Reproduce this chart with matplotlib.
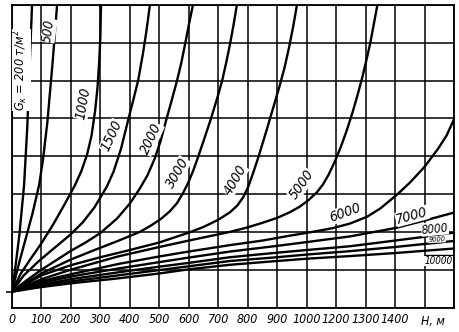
import matplotlib
matplotlib.use("Agg")
import matplotlib.pyplot as plt
from matplotlib import font_manager as fm

# ---- data (H in m, y in grid units 0..8) ----
H200 = [0, 12, 25, 41, 52, 60, 68]
Y200 = [0.42, 1.1, 1.92, 3.24, 4.8, 6.4, 8.0]

H500 = [0, 15, 30, 50, 70, 92, 105, 120, 138, 153]
Y500 = [0.42, 0.9, 1.35, 1.92, 2.5, 3.24, 3.9, 4.9, 6.5, 8.0]

H1000 = [0, 30, 60, 100, 140, 180, 214, 235, 255, 270, 282, 290, 296, 300, 302]
Y1000 = [0.42, 0.9, 1.25, 1.7, 2.2, 2.75, 3.24, 3.6, 4.05, 4.55, 5.2, 5.8, 6.5, 7.2, 8.0]

H1500 = [0, 40, 90, 140, 197, 240, 280, 322, 345, 370, 394, 412, 428, 444, 456, 468]
Y1500 = [0.42, 0.85, 1.22, 1.55, 1.92, 2.25, 2.65, 3.2, 3.6, 4.2, 4.95, 5.5, 6.0, 6.7, 7.3, 8.0]

H2000 = [0, 50, 100, 150, 200, 250, 300, 356, 400, 434, 460, 485, 505, 523, 542, 560, 574, 587, 600, 614]
Y2000 = [0.42, 0.72, 1.0, 1.25, 1.5, 1.72, 1.97, 2.35, 2.75, 3.15, 3.5, 3.95, 4.42, 4.95, 5.48, 6.0, 6.45, 6.95, 7.47, 8.0]

H3000 = [0, 100, 197, 280, 356, 434, 470, 505, 535, 560, 580, 598, 614, 628, 652, 675, 695, 713, 727, 740, 752, 763]
Y3000 = [0.42, 0.9, 1.26, 1.52, 1.75, 2.0, 2.16, 2.34, 2.54, 2.76, 3.02, 3.3, 3.6, 3.9, 4.45, 4.99, 5.5, 5.99, 6.48, 6.97, 7.48, 8.0]

H4000 = [0, 100, 200, 300, 400, 500, 600, 650, 700, 740, 765, 785, 802, 818, 835, 852, 869, 889, 909, 925, 940, 954, 967]
Y4000 = [0.42, 0.85, 1.12, 1.33, 1.52, 1.72, 1.98, 2.13, 2.32, 2.52, 2.7, 2.92, 3.2, 3.55, 3.95, 4.38, 4.82, 5.35, 5.88, 6.35, 6.87, 7.42, 8.0]

H5000 = [0, 100, 200, 360, 500, 600, 740, 800, 850, 900, 943, 975, 1005, 1035, 1055, 1075, 1095, 1115, 1135, 1155, 1172, 1188, 1203, 1216, 1228, 1240]
Y5000 = [0.42, 0.75, 1.0, 1.35, 1.6, 1.77, 2.0, 2.12, 2.24, 2.37, 2.52, 2.66, 2.83, 3.05, 3.25, 3.52, 3.85, 4.23, 4.66, 5.14, 5.6, 6.06, 6.55, 7.0, 7.5, 8.0]

H6000 = [0, 100, 200, 360, 500, 600, 740, 850, 943, 1020, 1089, 1147, 1205, 1250, 1306, 1350, 1400, 1446, 1475, 1500]
Y6000 = [0.42, 0.7, 0.88, 1.15, 1.35, 1.48, 1.65, 1.77, 1.9, 2.0, 2.1, 2.22, 2.4, 2.62, 2.98, 3.3, 3.72, 4.2, 4.55, 4.98]

H7000 = [0, 100, 200, 360, 500, 600, 740, 900, 1000, 1147, 1300, 1400, 1500]
Y7000 = [0.42, 0.65, 0.82, 1.03, 1.2, 1.32, 1.48, 1.63, 1.73, 1.88, 2.1, 2.3, 2.51]

H8000 = [0, 100, 200, 360, 500, 600, 740, 900, 1000, 1147, 1300, 1400, 1500]
Y8000 = [0.42, 0.6, 0.75, 0.93, 1.08, 1.18, 1.33, 1.45, 1.52, 1.62, 1.77, 1.87, 1.98]

H9000 = [0, 100, 200, 360, 500, 600, 740, 900, 1000, 1147, 1300, 1400, 1500]
Y9000 = [0.42, 0.57, 0.69, 0.85, 0.99, 1.09, 1.23, 1.33, 1.40, 1.49, 1.6, 1.68, 1.76]

H10000 = [0, 100, 200, 360, 500, 600, 740, 900, 1000, 1147, 1300, 1400, 1500]
Y10000 = [0.42, 0.54, 0.64, 0.77, 0.9, 1.01, 1.13, 1.23, 1.29, 1.36, 1.44, 1.5, 1.56]

curves = [(H200, Y200), (H500, Y500), (H1000, Y1000), (H1500, Y1500),
          (H2000, Y2000), (H3000, Y3000), (H4000, Y4000), (H5000, Y5000),
          (H6000, Y6000), (H7000, Y7000), (H8000, Y8000), (H9000, Y9000),
          (H10000, Y10000)]

tick_pos = [0, 100, 200, 300, 400, 500, 600, 700, 800, 900, 1000, 1100, 1200, 1300]
tick_lab = ["0", "100", "200", "300", "400", "500", "600", "700", "800", "900",
            "1000", "1200", "1300", "1400"]

# curve labels: text, H, y, rotation, relative size
labels = [("500", 125, 7.32, 82, 1.1),
          ("1000", 241, 5.41, 80, 1.15),
          ("1500", 338, 4.54, 65, 1.15),
          ("2000", 473, 4.46, 65, 1.15),
          ("3000", 561, 3.56, 60, 1.15),
          ("4000", 757, 3.37, 60, 1.15),
          ("5000", 983, 3.25, 55, 1.15),
          ("6000", 1130, 2.5, 20, 1.15),
          ("7000", 1357, 2.42, 15, 1.15),
          ("8000", 1435, 2.08, 5, 0.95),
          ("9000", 1442, 1.80, 3, 0.6),
          ("10000", 1448, 1.23, 0, 0.8)]

# ---- fonts: prefer a narrow face like the drafting font of the original ----
entries = fm.fontManager.ttflist
names = {f.name for f in entries}
if "Liberation Sans Narrow" in names:
    FAM, STRETCH = "Liberation Sans Narrow", "normal"
elif any(f.name == "DejaVu Sans" and "condensed" in str(f.stretch) for f in entries):
    FAM, STRETCH = "DejaVu Sans", "condensed"
else:
    FAM, STRETCH = "Liberation Sans", "normal"
plt.rcParams['font.family'] = [FAM, 'DejaVu Sans']
plt.rcParams['font.stretch'] = STRETCH

fig = plt.figure(figsize=(4.6, 3.32), dpi=100)

# size the font so that "1000" is about 28.5 px wide, as in the original
probe = fig.text(0, 0, "1000", fontsize=10, style="italic", stretch=STRETCH)
fig.canvas.draw()
w = probe.get_window_extent().width
probe.remove()
BASE = 10 * 28.5 / w

ax = fig.add_axes([12/460, 24.5/332, 442/460, 302.5/332])
ax.set_xlim(0, 1500)
ax.set_ylim(0, 8)

for v in range(0, 1600, 100):
    ax.axvline(v, color="black", lw=1.1, zorder=1)
for h in range(0, 9):
    ax.axhline(h, color="black", lw=1.1, zorder=1)
# short rule above the "10000" label
ax.plot([1400, 1500], [1.39, 1.39], color="black", lw=1.0, zorder=1)

for hx, yy in curves:
    ax.plot(hx, yy, color="black", lw=1.7, zorder=3, solid_joinstyle="round")

for t, hx, yy, rot, rs in labels:
    ax.text(hx, yy, t, rotation=rot, rotation_mode="anchor", ha="center",
            va="center", fontsize=BASE * rs, style="italic", zorder=4,
            stretch=STRETCH,
            bbox=dict(facecolor="white", edgecolor="none", pad=0.2))

ax.text(31, 6.28, r"$G_{к}$ = 200 т/м$^2$", rotation=90, rotation_mode="anchor",
        ha="center", va="center", fontsize=BASE * 1.02, style="italic", zorder=4,
        stretch=STRETCH,
        bbox=dict(facecolor="white", edgecolor="none", pad=0.2))

ax.set_xticks(tick_pos)
ax.set_xticklabels(tick_lab, fontsize=BASE, style="italic", stretch=STRETCH)
ax.tick_params(axis="x", length=0, pad=4)
ax.set_yticks([0.42])
ax.set_yticklabels([""])
ax.tick_params(axis="y", length=4, width=1.1, direction="out")
ax.text(1430, -0.38, "H, м", ha="center", va="center", fontsize=BASE,
        style="italic", stretch=STRETCH, clip_on=False)
for s in ax.spines.values():
    s.set_linewidth(1.3)

fig.savefig("out.png", dpi=100)
